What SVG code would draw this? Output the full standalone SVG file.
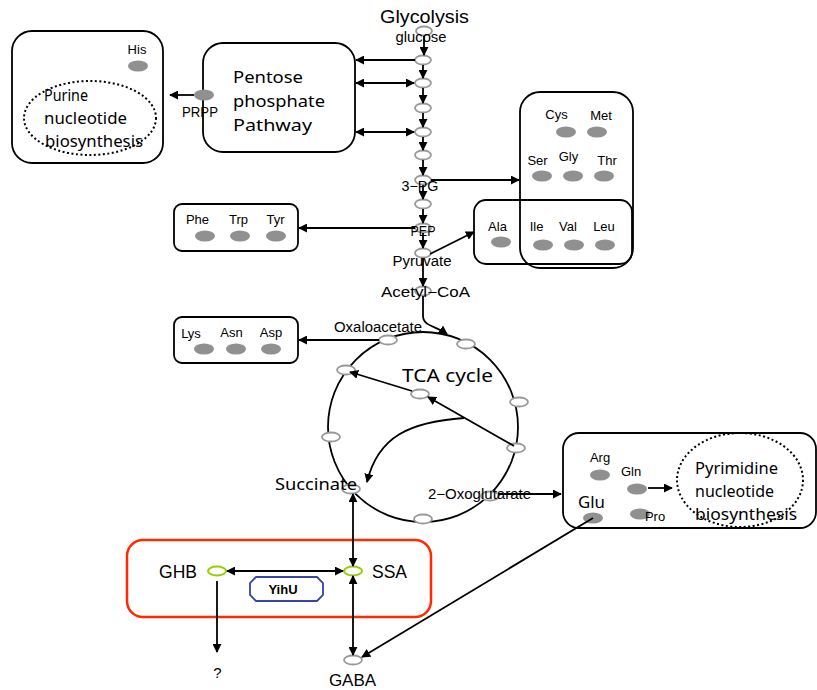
<svg xmlns="http://www.w3.org/2000/svg" width="817" height="690" viewBox="0 0 817 690">
<defs>
<marker id="ah" viewBox="0 0 10 10" refX="9" refY="5" markerWidth="5" markerHeight="5" orient="auto-start-reverse" markerUnits="strokeWidth">
<path d="M0,0 L10,5 L0,10 z" fill="#000"/>
</marker>
<style>
text{font-family:"Liberation Sans",Arial,sans-serif;fill:#000}
.big{font-family:"Noto Sans","DejaVu Sans",sans-serif;font-size:17px}
.aa{font-size:13px;text-anchor:middle}
.lbl{font-size:14px;text-anchor:middle}
.box{fill:#fff;stroke:#000;stroke-width:1.8}
.dot{fill:none;stroke:#000;stroke-width:2;stroke-dasharray:2 2.5}
.m{fill:#fff;stroke:#999;stroke-width:1.8}
.g{fill:#909090;stroke:none}
.y{fill:#fff;stroke:#99cc00;stroke-width:2}
.ca{fill:none;stroke:#000;stroke-width:1.8;marker-end:url(#ah)}
.cb{fill:none;stroke:#000;stroke-width:1.8;marker-end:url(#ah);marker-start:url(#ah)}
</style>
</defs>
<rect width="817" height="690" fill="#fff"/>

<g id="purine">
<rect class="box" x="12" y="31" width="151" height="132" rx="20"/>
<ellipse class="dot" cx="90" cy="118" rx="66" ry="37"/>
<text class="aa" x="137" y="54">His</text>
<ellipse class="g" cx="138" cy="66" rx="10" ry="5.5"/>
<text class="big" x="44" y="101" textLength="44" lengthAdjust="spacingAndGlyphs">Purine</text>
<text class="big" x="44" y="124" textLength="83" lengthAdjust="spacingAndGlyphs">nucleotide</text>
<text class="big" x="45" y="147" textLength="98" lengthAdjust="spacingAndGlyphs">biosynthesis</text>
</g>

<g id="ppp">
<rect class="box" x="203" y="43" width="152" height="109" rx="20"/>
<text class="big" x="233" y="83" textLength="70" lengthAdjust="spacingAndGlyphs">Pentose</text>
<text class="big" x="233" y="107" textLength="92" lengthAdjust="spacingAndGlyphs">phosphate</text>
<text class="big" x="233" y="131" textLength="79" lengthAdjust="spacingAndGlyphs">Pathway</text>
<ellipse class="g" cx="204" cy="95" rx="10" ry="5.5"/>
<text class="lbl" x="200" y="117" textLength="36" lengthAdjust="spacingAndGlyphs">PRPP</text>
</g>

<g id="glycolysis">
<text x="424.5" y="23" text-anchor="middle" style="font-size:19px" textLength="89" lengthAdjust="spacingAndGlyphs">Glycolysis</text>
<ellipse class="m" cx="424" cy="31" rx="8" ry="4.5"/>
<text class="lbl" x="421" y="42" textLength="51" lengthAdjust="spacingAndGlyphs">glucose</text>
<ellipse class="m" cx="423" cy="60" rx="8" ry="4.5"/>
<ellipse class="m" cx="423" cy="83" rx="8" ry="4.5"/>
<ellipse class="m" cx="423" cy="108" rx="8" ry="4.5"/>
<ellipse class="m" cx="423" cy="132" rx="8" ry="4.5"/>
<ellipse class="m" cx="423" cy="155" rx="8" ry="4.5"/>
<ellipse class="m" cx="423" cy="180" rx="8" ry="4.5"/>
<text class="lbl" x="420" y="191" textLength="37" lengthAdjust="spacingAndGlyphs">3−PG</text>
<ellipse class="m" cx="423" cy="204" rx="8" ry="4.5"/>
<ellipse class="m" cx="423" cy="228" rx="8" ry="4.5"/>
<text class="lbl" x="423" y="236" textLength="25" lengthAdjust="spacingAndGlyphs">PEP</text>
<ellipse class="m" cx="423" cy="253" rx="8" ry="4.5"/>
<text class="lbl" x="422" y="266" textLength="59" lengthAdjust="spacingAndGlyphs">Pyruvate</text>
<ellipse class="m" cx="423" cy="291" rx="8" ry="4.5"/>
<text class="lbl" x="425.5" y="297" textLength="89" lengthAdjust="spacingAndGlyphs">Acetyl−CoA</text>
</g>

<g id="aa-right">
<rect class="box" x="520" y="92" width="113" height="176" rx="20"/>
<rect x="474" y="200" width="158" height="64" rx="12" fill="none" stroke="#000" stroke-width="1.8"/>
<text class="aa" x="556.5" y="119">Cys</text>
<text class="aa" x="601" y="120">Met</text>
<ellipse class="g" cx="566" cy="132" rx="10" ry="5.5"/>
<ellipse class="g" cx="597" cy="132" rx="10" ry="5.5"/>
<text class="aa" x="537.5" y="165">Ser</text>
<text class="aa" x="568.5" y="161">Gly</text>
<text class="aa" x="607" y="165">Thr</text>
<ellipse class="g" cx="542" cy="176" rx="10" ry="5.5"/>
<ellipse class="g" cx="573" cy="176" rx="10" ry="5.5"/>
<ellipse class="g" cx="604" cy="176" rx="10" ry="5.5"/>
<text class="aa" x="497.5" y="231">Ala</text>
<text class="aa" x="536.5" y="231">Ile</text>
<text class="aa" x="568" y="231">Val</text>
<text class="aa" x="604" y="231">Leu</text>
<ellipse class="g" cx="501" cy="242" rx="10" ry="5.5"/>
<ellipse class="g" cx="543" cy="245" rx="10" ry="5.5"/>
<ellipse class="g" cx="574" cy="245" rx="10" ry="5.5"/>
<ellipse class="g" cx="605" cy="245" rx="10" ry="5.5"/>
</g>

<g id="aromatic">
<rect class="box" x="174" y="204" width="124" height="47" rx="8"/>
<text class="aa" x="197.5" y="224">Phe</text>
<text class="aa" x="238.5" y="224">Trp</text>
<text class="aa" x="275.5" y="224">Tyr</text>
<ellipse class="g" cx="205" cy="236" rx="10" ry="5.5"/>
<ellipse class="g" cx="240" cy="236" rx="10" ry="5.5"/>
<ellipse class="g" cx="276" cy="236" rx="10" ry="5.5"/>
</g>

<g id="asp-family">
<rect class="box" x="174" y="317" width="124" height="46" rx="8"/>
<text class="aa" x="191" y="338">Lys</text>
<text class="aa" x="231.5" y="337">Asn</text>
<text class="aa" x="271" y="337">Asp</text>
<ellipse class="g" cx="204" cy="349" rx="10" ry="5.5"/>
<ellipse class="g" cx="236" cy="349" rx="10" ry="5.5"/>
<ellipse class="g" cx="271" cy="349" rx="10" ry="5.5"/>
</g>

<g id="tca">
<circle cx="423" cy="427" r="95" fill="none" stroke="#000" stroke-width="1.8"/>
<text class="big" x="447.5" y="382" text-anchor="middle" style="font-size:18px" textLength="91" lengthAdjust="spacingAndGlyphs">TCA cycle</text>
<text class="lbl" x="378" y="332" textLength="88" lengthAdjust="spacingAndGlyphs">Oxaloacetate</text>
<ellipse class="m" cx="388" cy="340" rx="9" ry="4.5"/>
<ellipse class="m" cx="466" cy="344" rx="9" ry="4.5"/>
<ellipse class="m" cx="346" cy="370" rx="9" ry="4.5"/>
<ellipse class="m" cx="420" cy="394" rx="9" ry="4.5"/>
<ellipse class="m" cx="519" cy="402" rx="9" ry="4.5"/>
<ellipse class="m" cx="331" cy="437" rx="9" ry="4.5"/>
<ellipse class="m" cx="516" cy="448" rx="9" ry="4.5"/>
<ellipse class="m" cx="351" cy="489" rx="9" ry="4.5"/>
<ellipse class="m" cx="490" cy="496" rx="9" ry="4.5"/>
<ellipse class="m" cx="423" cy="519" rx="9" ry="4.5"/>
<text class="big" x="316" y="490" text-anchor="middle" style="font-size:16px" textLength="82" lengthAdjust="spacingAndGlyphs">Succinate</text>
<text class="lbl" x="479.5" y="499" textLength="103" lengthAdjust="spacingAndGlyphs">2−Oxoglutarate</text>
</g>

<g id="pyrimidine">
<rect class="box" x="563" y="433" width="253" height="95" rx="16"/>
<ellipse class="dot" cx="740" cy="480" rx="63" ry="47"/>
<text class="aa" x="600" y="462">Arg</text>
<ellipse class="g" cx="600" cy="475" rx="10" ry="5.5"/>
<text class="aa" x="631" y="476">Gln</text>
<ellipse class="g" cx="637" cy="489" rx="10" ry="5.5"/>
<text class="big" x="591.5" y="508" text-anchor="middle" style="font-size:17px" textLength="27" lengthAdjust="spacingAndGlyphs">Glu</text>
<ellipse class="g" cx="593" cy="518" rx="10" ry="5.5"/>
<ellipse class="g" cx="640" cy="514" rx="10" ry="5.5"/>
<text class="aa" x="655" y="521">Pro</text>
<text class="big" x="695" y="474" textLength="83" lengthAdjust="spacingAndGlyphs">Pyrimidine</text>
<text class="big" x="695" y="497" textLength="79" lengthAdjust="spacingAndGlyphs">nucleotide</text>
<text class="big" x="695" y="520" textLength="102" lengthAdjust="spacingAndGlyphs">biosynthesis</text>
</g>

<g id="ghb-module">
<rect x="127" y="540" width="304" height="77" rx="16" fill="none" stroke="#ff2a00" stroke-width="2.5"/>
<text x="178" y="578" style="font-size:17.5px" text-anchor="middle">GHB</text>
<ellipse class="y" cx="217" cy="571" rx="9" ry="4.5"/>
<text x="389.5" y="578" style="font-size:17.5px" text-anchor="middle">SSA</text>
<ellipse class="y" cx="353" cy="571" rx="9" ry="4.5"/>
<polygon points="256,577 317,577 323,583 323,595 317,601 256,601 250,595 250,583" fill="#fff" stroke="#3344aa" stroke-width="1.8"/>
<text x="283" y="594" style="font-size:13px;font-weight:bold" text-anchor="middle">YihU</text>
<text x="217.5" y="678" style="font-size:15px" text-anchor="middle">?</text>
<ellipse class="m" cx="353" cy="660" rx="9" ry="4.5"/>
<text x="352.5" y="686" style="font-size:17px" text-anchor="middle">GABA</text>
</g>

<g id="connectors">
<line class="ca" x1="424" y1="36" x2="424" y2="55"/>
<line class="ca" x1="423" y1="65" x2="423" y2="78"/>
<line class="ca" x1="423" y1="88" x2="423" y2="103"/>
<line class="ca" x1="423" y1="113" x2="423" y2="127"/>
<line class="ca" x1="423" y1="137" x2="423" y2="150"/>
<line class="ca" x1="423" y1="160" x2="423" y2="175"/>
<line class="ca" x1="423" y1="185" x2="423" y2="199"/>
<line class="ca" x1="423" y1="209" x2="423" y2="223"/>
<line class="ca" x1="423" y1="233" x2="423" y2="248"/>
<line class="ca" x1="423" y1="258" x2="423" y2="286"/>
<line class="ca" x1="415" y1="60" x2="356" y2="60"/>
<line class="cb" x1="356" y1="83" x2="414" y2="83"/>
<line class="cb" x1="356" y1="132" x2="414" y2="132"/>
<line class="ca" x1="194" y1="95" x2="170" y2="95"/>
<line class="ca" x1="431" y1="180" x2="519" y2="180"/>
<line class="ca" x1="415" y1="228" x2="299" y2="228"/>
<line class="ca" x1="430" y1="254" x2="474" y2="232"/>
<line class="ca" x1="379" y1="340" x2="299" y2="340"/>
<path class="ca" d="M423,296 L423,316 C423,326 436,326 447,334"/>
<line class="ca" x1="514" y1="446" x2="428" y2="397"/>
<line class="ca" x1="412" y1="391" x2="350" y2="372"/>
<path class="ca" d="M464,418 C410,422 378,436 367,482"/>
<line class="ca" x1="498" y1="494" x2="561" y2="494"/>
<line class="cb" x1="353" y1="494" x2="353" y2="566"/>
<line class="cb" x1="353" y1="576" x2="353" y2="655"/>
<line class="cb" x1="227" y1="571" x2="343" y2="571"/>
<line class="ca" x1="217" y1="581" x2="217" y2="652"/>
<line class="ca" x1="593" y1="518" x2="362" y2="657"/>
<line class="ca" x1="648" y1="488" x2="672" y2="488"/>
</g>
</svg>
